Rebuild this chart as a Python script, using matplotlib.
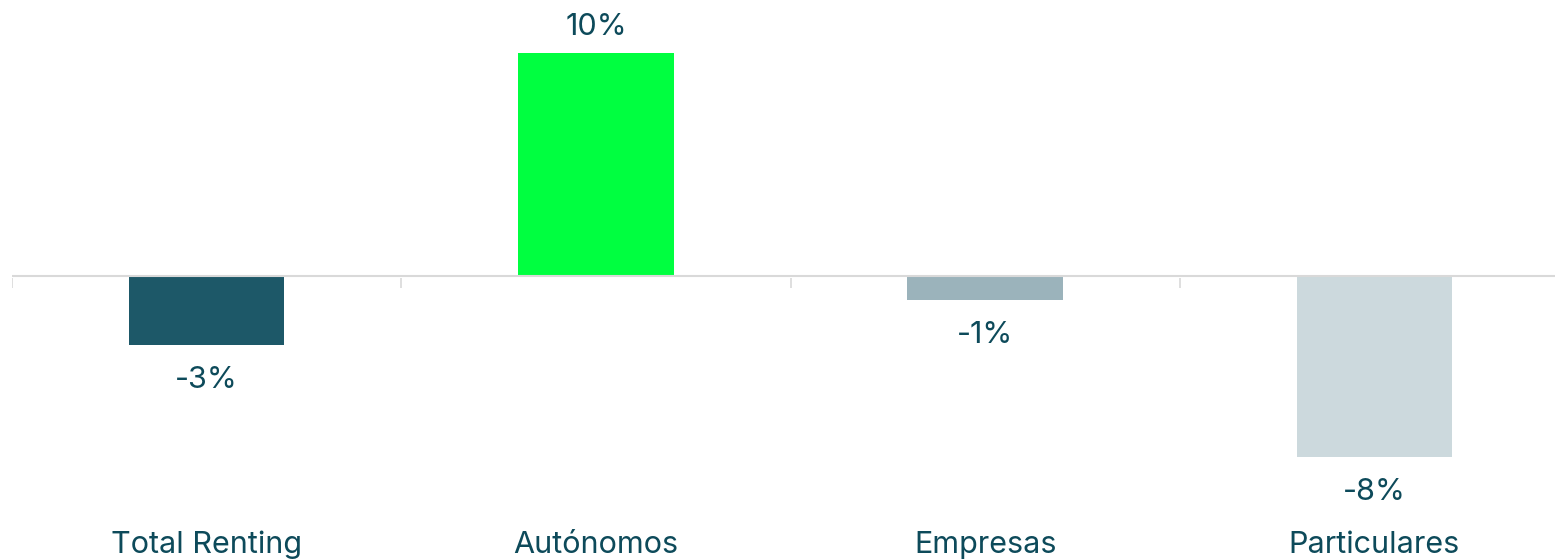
import matplotlib.pyplot as plt

# Data
categories = ['Total Renting', 'Autónomos', 'Empresas', 'Particulares']
values = [-3.1, 10.0, -1.08, -8.1]
labels = ['-3%', '10%', '-1%', '-8%']
colors = ['#1d5868', '#00ff40', '#9bb3bb', '#ccd9dd']

text_color = '#0d4a5a'
plt.rcParams['font.family'] = ['Inter', 'DejaVu Sans']

fig = plt.figure(figsize=(15.55, 5.59), dpi=100)
ax = fig.add_axes([12 / 1555, 0, 1543 / 1555, 1])

x = range(len(categories))
ax.bar(x, values, width=0.4, color=colors, zorder=2)

# zero line
ax.axhline(0, color='#d9d9d9', lw=1.5, zorder=3)

# value labels
for xi, v, lab in zip(x, values, labels):
    if v >= 0:
        ax.annotate(lab, (xi, v), xytext=(0, 13), textcoords='offset points',
                    ha='center', va='baseline', fontsize=22, color=text_color)
    else:
        ax.annotate(lab, (xi, v), xytext=(0, -31), textcoords='offset points',
                    ha='center', va='baseline', fontsize=22, color=text_color)

# category labels at the bottom
for xi, cat in zip(x, categories):
    ax.text(xi, 6 / 559, cat, transform=ax.get_xaxis_transform(),
            ha='center', va='baseline', fontsize=22, color=text_color)

ax.set_xlim(-0.5, 3.464)
ax.set_ylim(-(559 - 276) / 22.3, 276 / 22.3)

# tick marks between categories
for b in [-0.5, 0.5, 1.5, 2.5]:
    ax.plot([b, b], [-0.1, -0.55], color='#dcdcdc', lw=1.3, zorder=1,
            solid_capstyle='butt')

ax.axis('off')
fig.savefig('out.png', dpi=100)
